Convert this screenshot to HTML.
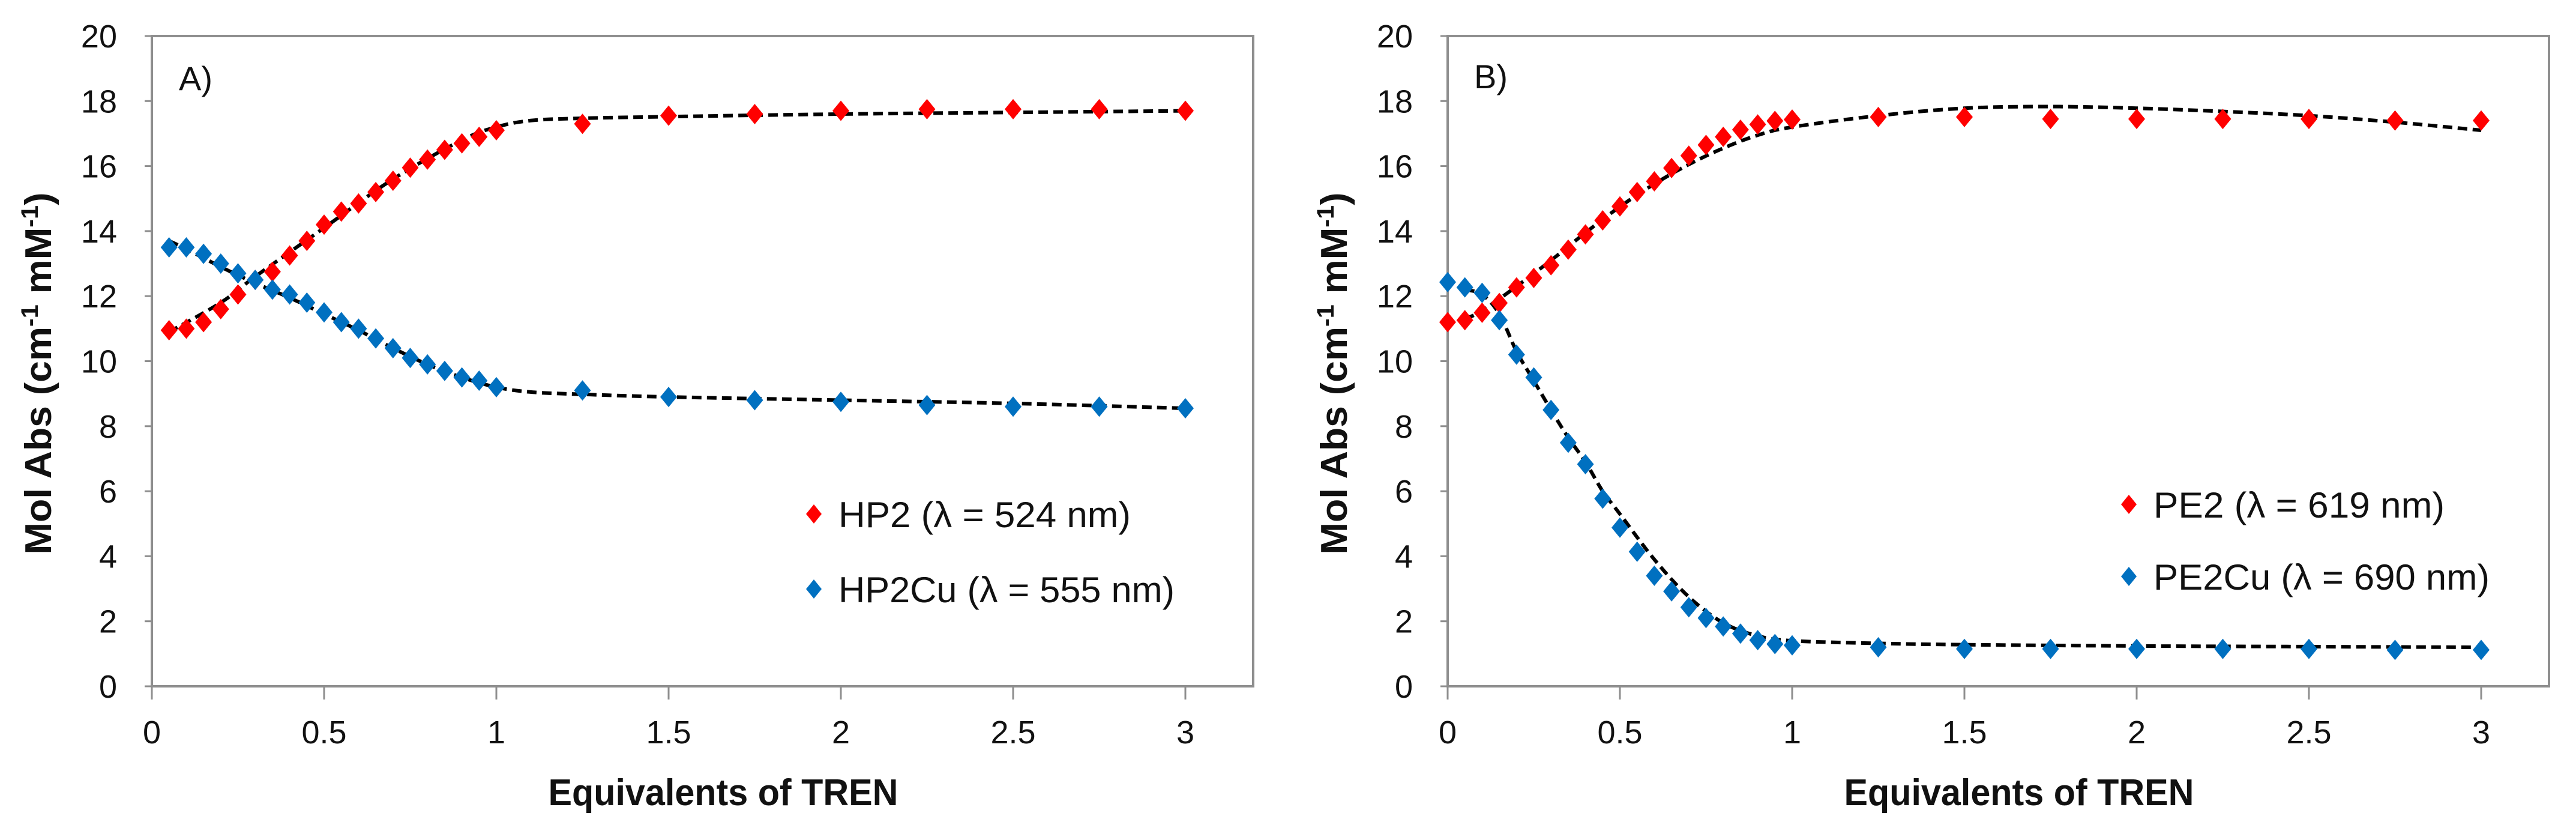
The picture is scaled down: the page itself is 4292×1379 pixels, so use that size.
<!DOCTYPE html>
<html><head><meta charset="utf-8"><style>
html,body{margin:0;padding:0;background:#fff;}
svg{display:block;}
text{font-family:"Liberation Sans",sans-serif;fill:#111;}
</style></head><body>
<svg id="chart" width="4292" height="1379" viewBox="0 0 4292 1379" xmlns="http://www.w3.org/2000/svg"></svg>
<script>
const xTicks=[0,0.5,1,1.5,2,2.5,3];
const xTickLabels=["0","0.5","1","1.5","2","2.5","3"];
const yTicks=[0,2,4,6,8,10,12,14,16,18,20];
const yTickLabels=["0","2","4","6","8","10","12","14","16","18","20"];

const hp2X=[0.05,0.1,0.15,0.2,0.25,0.3,0.35,0.4,0.45,0.5,0.55,0.6,0.65,0.7,0.75,0.8,0.85,0.9,0.95,1.0,1.25,1.5,1.75,2,2.25,2.5,2.75,3];
const hp2Y=[10.95,11.0,11.2,11.6,12.05,12.5,12.75,13.25,13.7,14.2,14.6,14.85,15.2,15.55,15.95,16.2,16.5,16.7,16.9,17.1,17.3,17.55,17.6,17.7,17.75,17.75,17.75,17.7];
const hp2CuY=[13.5,13.5,13.3,13.0,12.7,12.5,12.2,12.05,11.8,11.5,11.2,11.0,10.7,10.4,10.1,9.9,9.7,9.5,9.4,9.2,9.1,8.9,8.8,8.75,8.65,8.6,8.6,8.55];
const hp2FitX=[0.05,0.2,0.3,0.5,0.7,0.9,1.0,1.1,1.25,1.5,2,2.5,3];
const hp2FitY=[10.9,11.8,12.6,14.1,15.6,16.8,17.2,17.4,17.47,17.52,17.6,17.65,17.7];
const hp2CuFitX=[0.05,0.1,0.2,0.3,0.4,0.5,0.6,0.7,0.8,0.9,1.0,1.1,1.25,1.5,2,2.5,3];
const hp2CuFitY=[13.7,13.45,12.9,12.4,11.95,11.45,10.95,10.4,9.9,9.5,9.2,9.05,8.98,8.9,8.8,8.7,8.55];

const pe2X=[0,0.05,0.1,0.15,0.2,0.25,0.3,0.35,0.4,0.45,0.5,0.55,0.6,0.65,0.7,0.75,0.8,0.85,0.9,0.95,1.0,1.25,1.5,1.75,2,2.25,2.5,2.75,3];
const pe2Y=[11.2,11.26,11.49,11.79,12.27,12.56,12.95,13.43,13.9,14.33,14.76,15.2,15.53,15.94,16.32,16.65,16.9,17.12,17.28,17.39,17.43,17.51,17.51,17.45,17.45,17.45,17.45,17.4,17.4];
const pe2CuY=[12.43,12.27,12.1,11.26,10.2,9.5,8.5,7.49,6.83,5.77,4.88,4.14,3.4,2.92,2.43,2.1,1.84,1.62,1.42,1.3,1.26,1.2,1.15,1.15,1.15,1.15,1.15,1.12,1.12];
const pe2FitX=[0.05,0.1,0.2,0.3,0.4,0.5,0.6,0.7,0.8,0.9,1.0,1.25,1.5,1.75,2,2.25,2.5,2.75,3];
const pe2FitY=[11.3,11.55,12.3,13.1,13.95,14.75,15.45,16.05,16.55,16.95,17.2,17.55,17.78,17.83,17.78,17.68,17.55,17.35,17.1];
const pe2CuFitX=[0.05,0.1,0.15,0.2,0.25,0.3,0.35,0.4,0.45,0.5,0.6,0.7,0.8,0.9,1.0,1.25,1.5,2,2.5,3];
const pe2CuFitY=[12.2,12.05,11.45,10.3,9.4,8.5,7.65,6.9,6.0,5.3,3.9,2.75,1.95,1.55,1.4,1.32,1.28,1.24,1.22,1.2];

const NS="http://www.w3.org/2000/svg";
const svg=document.getElementById('chart');
function mk(tag,attrs,parent,txt){const e=document.createElementNS(NS,tag);for(const k in attrs)e.setAttribute(k,attrs[k]);if(txt!==undefined)e.textContent=txt;(parent||svg).appendChild(e);return e;}

function smoothPath(pts){
  let d="M"+pts[0][0]+","+pts[0][1];
  for(let i=0;i<pts.length-1;i++){
    const p0=pts[i-1]||pts[i],p1=pts[i],p2=pts[i+1],p3=pts[i+2]||p2;
    const c1x=p1[0]+(p2[0]-p0[0])/6,c1y=p1[1]+(p2[1]-p0[1])/6;
    const c2x=p2[0]-(p3[0]-p1[0])/6,c2y=p2[1]-(p3[1]-p1[1])/6;
    d+=" C"+c1x+","+c1y+" "+c2x+","+c2y+" "+p2[0]+","+p2[1];
  }
  return d;
}

function panel(cfg){
  const L=cfg.left,R=cfg.left+1835,T=60,B=1143;
  const sx=v=>L+v*574, sy=v=>B-(v/20)*(B-T);
  const g=mk('g',{});
  
  
  const frame=mk('rect',{x:L,y:T,width:R-L,height:B-T,fill:'none',stroke:'#8e8e8e','stroke-width':4},g);
  
  
  yTicks.forEach((v,i)=>{
    const t=mk('line',{x1:L-12,x2:L,y1:sy(v),y2:sy(v),stroke:'#8e8e8e','stroke-width':3},g);
    
    
    const lb=mk('text',{x:L-58,y:sy(v)+19,'text-anchor':'end','font-size':54},g,yTickLabels[i]);
    
    
  });
  xTicks.forEach((v,i)=>{
    const t=mk('line',{x1:sx(v),x2:sx(v),y1:B,y2:B+22,stroke:'#8e8e8e','stroke-width':3},g);
    
    
    const lb=mk('text',{x:sx(v),y:1238,'text-anchor':'middle','font-size':54},g,xTickLabels[i]);
    
    
  });
  const fits=[[cfg.fitAX,cfg.fitAY,'fit-line-red-series'],[cfg.fitBX,cfg.fitBY,'fit-line-blue-series']];
  fits.forEach(f=>{
    const pts=f[0].map((x,i)=>[sx(x),sy(f[1][i])]);
    const p=mk('path',{d:smoothPath(pts),fill:'none',stroke:'#000','stroke-width':6,'stroke-dasharray':'16,9'},g);
    
    
  });
  const series=[[cfg.x,cfg.yA,'#ff0000',cfg.sA],[cfg.x,cfg.yB,'#0070c0',cfg.sB]];
  series.forEach(s=>{
    s[0].forEach((x,i)=>{
      const cx=sx(x),cy=sy(s[1][i]);
      const d=mk('polygon',{points:`${cx},${cy-17} ${cx+14},${cy} ${cx},${cy+17} ${cx-14},${cy}`,fill:s[2]},g);
      
      
    });
  });
  const lab=mk('text',{x:cfg.labX,y:cfg.labY,'font-size':56},g,cfg.label);
  
  
  cfg.legend.forEach((lg,i)=>{
    const cy=cfg.legY[i];
    const d=mk('polygon',{points:`${cfg.legX},${cy-16} ${cfg.legX+13},${cy} ${cfg.legX},${cy+16} ${cfg.legX-13},${cy}`,fill:lg.c},g);
    
    
    const t=mk('text',{x:cfg.legX+41,y:cy+22,'font-size':60,textLength:lg.w,lengthAdjust:'spacingAndGlyphs'},g,lg.t);
    
    
  });
  const xt=mk('text',{x:cfg.left+952,y:1341,'text-anchor':'middle','font-size':62,'font-weight':'bold',textLength:583,lengthAdjust:'spacingAndGlyphs'},g,'Equivalents of TREN');
  
  
  const yx=cfg.left-168, yc=622;
  const yt=mk('text',{x:yx,y:yc,'text-anchor':'middle','font-size':62,'font-weight':'bold',transform:`rotate(-90 ${yx} ${yc})`,textLength:603,lengthAdjust:'spacingAndGlyphs'},g);
  
  
  mk('tspan',{},yt,'Mol Abs (cm');
  mk('tspan',{'font-size':40,dy:-22},yt,'-1');
  mk('tspan',{dy:22},yt,' mM');
  mk('tspan',{'font-size':40,dy:-22},yt,'-1');
  mk('tspan',{dy:22},yt,')');
}

panel({name:'panel-a',left:253,x:hp2X,yA:hp2Y,yB:hp2CuY,sA:'hp2',sB:'hp2cu',
  fitAX:hp2FitX,fitAY:hp2FitY,fitBX:hp2CuFitX,fitBY:hp2CuFitY,label:'A)',labX:298,labY:150,
  legX:1356,legY:[856,981],legend:[{t:'HP2 (λ = 524 nm)',c:'#ff0000',w:487},{t:'HP2Cu (λ = 555 nm)',c:'#0070c0',w:560}]});
panel({name:'panel-b',left:2412,x:pe2X,yA:pe2Y,yB:pe2CuY,sA:'pe2',sB:'pe2cu',
  fitAX:pe2FitX,fitAY:pe2FitY,fitBX:pe2CuFitX,fitBY:pe2CuFitY,label:'B)',labX:2456,labY:147,
  legX:3547,legY:[840,960],legend:[{t:'PE2 (λ = 619 nm)',c:'#ff0000',w:485},{t:'PE2Cu (λ = 690 nm)',c:'#0070c0',w:560}]});
</script>
</body></html>
